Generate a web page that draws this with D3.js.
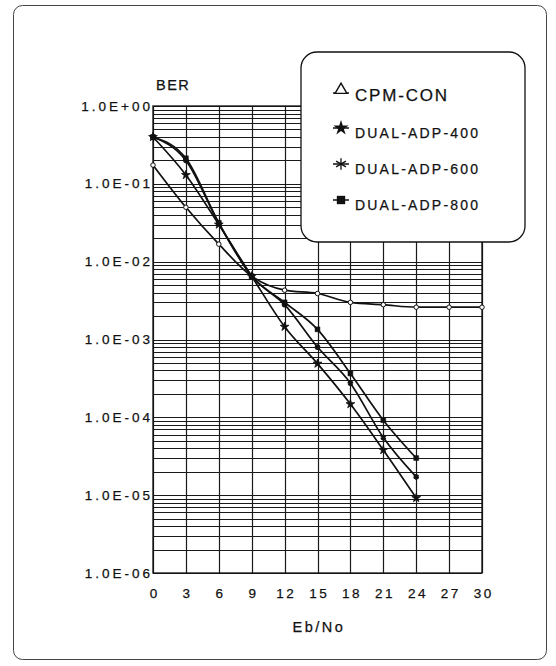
<!DOCTYPE html>
<html>
<head>
<meta charset="utf-8">
<script src="https://cdn.jsdelivr.net/npm/d3@7"></script>
<style>
  html, body { margin: 0; padding: 0; background: #fff; }
  svg { display: block; }
  text { font-family: "Liberation Sans", Arial, sans-serif; fill: #111; stroke: #111; stroke-width: 0.25px; }
</style>
</head>
<body>
<svg id="chart" width="556" height="666"></svg>
<script>
// ---- data ----
const ebnoAll = [0, 3, 6, 9, 12, 15, 18, 21, 24, 27, 30];
const ebnoDual = [0, 3, 6, 9, 12, 15, 18, 21, 24];
const cpmCon  = [0.174, 0.050, 0.0168, 0.0065, 0.0043, 0.0039, 0.0030, 0.0028, 0.0026, 0.0026, 0.0026];
const dual400 = [0.40, 0.13, 0.030, 0.0065, 0.00146, 0.00049, 0.000148, 0.000038, 0.0000092];
const dual600 = [0.40, 0.20, 0.031, 0.0065, 0.0028, 0.00080, 0.000275, 0.000055, 0.0000172];
const dual800 = [0.40, 0.213, 0.0316, 0.0065, 0.0030, 0.00135, 0.000366, 0.000092, 0.000030];
const xTicks = [0, 3, 6, 9, 12, 15, 18, 21, 24, 27, 30];
const yTicks = [1, 1e-1, 1e-2, 1e-3, 1e-4, 1e-5, 1e-6];
const yTickLabels = ["1.0E+00", "1.0E-01", "1.0E-02", "1.0E-03", "1.0E-04", "1.0E-05", "1.0E-06"];
const seriesNames = ["CPM-CON", "DUAL-ADP-400", "DUAL-ADP-600", "DUAL-ADP-800"];

const series = [
  { name: seriesNames[0], xs: ebnoAll,  ys: cpmCon,  sym: "circle" },
  { name: seriesNames[1], xs: ebnoDual, ys: dual400, sym: "star" },
  { name: seriesNames[2], xs: ebnoDual, ys: dual600, sym: "asterisk" },
  { name: seriesNames[3], xs: ebnoDual, ys: dual800, sym: "square" }
];

// ---- layout ----
const L = 153, R = 482, T = 106, B = 573;
const svg = d3.select("#chart");
const x = d3.scaleLinear().domain([0, 30]).range([L, R]);
const y = d3.scaleLog().domain([1, 1e-6]).range([T, B]);

// outer frame
svg.append("rect").attr("x", 13.5).attr("y", 5.5).attr("width", 533).attr("height", 654)
  .attr("rx", 9).attr("fill", "none").attr("stroke", "#444").attr("stroke-width", 1);

// grid
const g = svg.append("g");
const minor = [1];
for (let k = -1; k >= -6; k--) for (let m = 1; m <= 9; m++) minor.push(m * Math.pow(10, k));
g.selectAll("line.h").data(minor).join("line")
  .attr("x1", L).attr("x2", R)
  .attr("y1", d => Math.round(y(d)) + 0.5).attr("y2", d => Math.round(y(d)) + 0.5)
  .attr("stroke", "#1a1a1a").attr("stroke-width", 1);
g.selectAll("line.v").data(xTicks).join("line")
  .attr("y1", T).attr("y2", B)
  .attr("x1", d => Math.round(x(d)) + 0.5).attr("x2", d => Math.round(x(d)) + 0.5)
  .attr("stroke", "#1a1a1a").attr("stroke-width", 1.2);
// plot frame
svg.append("rect").attr("x", L).attr("y", T).attr("width", R - L).attr("height", B - T)
  .attr("fill", "none").attr("stroke", "#111").attr("stroke-width", 1.3);

// axes labels via d3 axes
const xAxis = svg.append("g").attr("transform", `translate(0,${B})`)
  .call(d3.axisBottom(x).tickValues(xTicks).tickSize(0).tickPadding(15).tickFormat(d3.format("d")));
xAxis.select(".domain").remove();
xAxis.selectAll("text").attr("font-size", 13.5).attr("letter-spacing", "2.5px")
  .attr("font-family", "Liberation Sans, Arial, sans-serif").attr("fill", "#111").attr("dx", "1.2px");

const yAxis = svg.append("g").attr("transform", `translate(${L},0)`)
  .call(d3.axisLeft(y).tickValues(yTicks).tickSize(0).tickPadding(0)
    .tickFormat((d, i) => yTickLabels[i]));
yAxis.select(".domain").remove();
yAxis.selectAll("text").attr("font-size", 13.5).attr("letter-spacing", "3px")
  .attr("font-family", "Liberation Sans, Arial, sans-serif").attr("fill", "#111").attr("dy", "0.3em");

svg.append("text").attr("x", 156).attr("y", 90).attr("font-size", 14.5)
  .attr("letter-spacing", "1.5px").text("BER");
svg.append("text").attr("x", 319).attr("y", 632).attr("text-anchor", "middle")
  .attr("font-size", 14.5).attr("letter-spacing", "2.5px").text("Eb/No");

// lines
const line = d3.line().x(d => x(d[0])).y(d => y(d[1])).curve(d3.curveMonotoneX);
function drawMarker(sel, sym) {
  if (sym === "circle") {
    sel.attr("d", d3.symbol(d3.symbolCircle, 16)()).attr("fill", "#fff").attr("stroke", "#111").attr("stroke-width", 1);
  } else if (sym === "asterisk") {
    sel.attr("d", d3.symbol(d3.symbolAsterisk, 22)()).attr("fill", "none").attr("stroke", "#111").attr("stroke-width", 2.2);
  } else if (sym === "star") {
    sel.attr("d", d3.symbol(d3.symbolStar, 24)()).attr("fill", "#111").attr("stroke", "#111").attr("stroke-width", 0.8);
  } else {
    sel.attr("d", d3.symbol(d3.symbolSquare, 24)()).attr("fill", "#111").attr("stroke", "#111").attr("stroke-width", 0.5);
  }
}
series.forEach(s => {
  const pts = s.xs.map((v, i) => [v, s.ys[i]]);
  svg.append("path").datum(pts).attr("d", line)
    .attr("fill", "none").attr("stroke", "#111").attr("stroke-width", 1.7);
});
series.forEach(s => {
  const pts = s.xs.map((v, i) => [v, s.ys[i]]);
  svg.append("g").selectAll("path").data(pts).join("path")
    .attr("transform", d => `translate(${x(d[0])},${y(d[1])})`)
    .call(sel => drawMarker(sel, s.sym));
});

// legend
const lg = svg.append("g");
lg.append("rect").attr("x", 301).attr("y", 52).attr("width", 224).attr("height", 190)
  .attr("rx", 16).attr("fill", "#fff").attr("stroke", "#111").attr("stroke-width", 1.3);
const legY = [95, 133, 169, 205];
const legSym = ["triangle", "star", "asterisk", "square"];
const legFont = [17, 14, 14, 14];
const legSpacing = ["1.8px", "2.2px", "2.2px", "2.2px"];
seriesNames.forEach((n, i) => {
  const my = legY[i] - 5;
  lg.append("line").attr("x1", 333).attr("x2", 349).attr("y1", my + (i === 0 ? 3 : 0)).attr("y2", my + (i === 0 ? 3 : 0))
    .attr("stroke", "#111").attr("stroke-width", 1.5);
  const p = lg.append("path").attr("transform", `translate(341,${my})`);
  if (i === 0) {
    p.attr("d", d3.symbol(d3.symbolTriangle, 60)()).attr("fill", "#fff").attr("stroke", "#111").attr("stroke-width", 1.4);
  } else if (legSym[i] === "asterisk") {
    p.attr("d", d3.symbol(d3.symbolAsterisk, 90)()).attr("fill", "none").attr("stroke", "#111").attr("stroke-width", 1.3);
  } else {
    p.attr("d", d3.symbol(legSym[i] === "star" ? d3.symbolStar : d3.symbolSquare, 70)())
      .attr("fill", "#111");
  }
  lg.append("text").attr("x", 355).attr("y", legY[i]).attr("dy", "0.35em")
    .attr("font-size", legFont[i]).attr("letter-spacing", legSpacing[i]).text(n);
});
</script>
</body>
</html>
